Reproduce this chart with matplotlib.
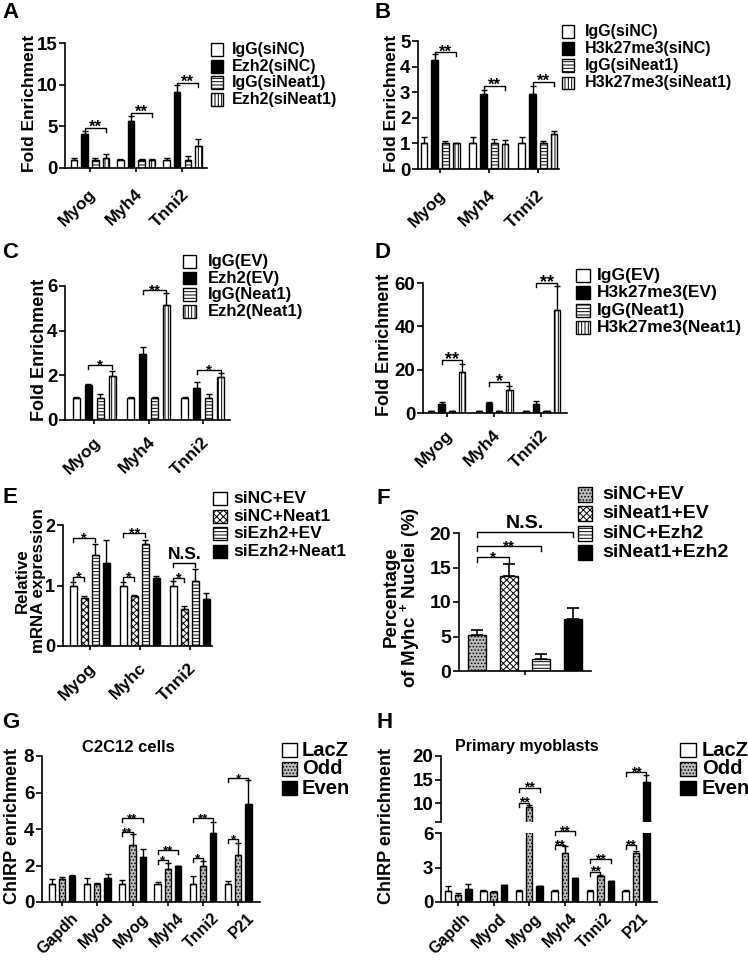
import numpy as np
import matplotlib
matplotlib.use('Agg')
import matplotlib.pyplot as plt
from matplotlib.patches import Rectangle
from matplotlib.transforms import ScaledTranslation

plt.rcParams.update({
    'font.family': ['Liberation Sans', 'DejaVu Sans'],
    'font.weight': 'bold',
    'axes.labelweight': 'bold',
    'hatch.linewidth': 0.7,
    'axes.linewidth': 1.2,
    'mathtext.fontset': 'custom',
    'mathtext.rm': 'Liberation Sans:bold',
    'mathtext.bf': 'Liberation Sans:bold',
    'mathtext.it': 'Liberation Sans:bold',
    'mathtext.default': 'rm',
})

# ---------------- data ----------------
genes3 = ['Myog', 'Myh4', 'Tnni2']
genes3e = ['Myog', 'Myhc', 'Tnni2']
genes6 = ['Gapdh', 'Myod', 'Myog', 'Myh4', 'Tnni2', 'P21']

a_labels = ['IgG(siNC)', 'Ezh2(siNC)', 'IgG(siNeat1)', 'Ezh2(siNeat1)']
a_vals = [[1.0, 1.0, 1.0], [4.1, 5.6, 9.1], [1.0, 1.0, 1.0], [1.25, 1.0, 2.7]]
a_errs = [[0.15, 0.1, 0.2], [0.4, 0.6, 0.8], [0.2, 0.1, 0.4], [0.45, 0.1, 0.8]]
a_sig = [(0, 1, 3, 4.8, '**'), (1, 1, 3, 6.6, '**'), (2, 1, 3, 10.2, '**')]

b_labels = ['IgG(siNC)', 'H3k27me3(siNC)', 'IgG(siNeat1)', 'H3k27me3(siNeat1)']
b_vals = [[1.0, 1.0, 1.0], [4.27, 2.92, 2.92], [1.0, 1.0, 1.0], [1.0, 0.97, 1.35]]
b_errs = [[0.26, 0.25, 0.25], [0.23, 0.16, 0.33], [0.1, 0.18, 0.1], [0.02, 0.15, 0.13]]
b_sig = [(0, 1, 3, 4.56, '**'), (1, 1, 3, 3.24, '**'), (2, 1, 3, 3.41, '**')]

c_labels = ['IgG(EV)', 'Ezh2(EV)', 'IgG(Neat1)', 'Ezh2(Neat1)']
c_vals = [[1.0, 1.0, 1.0], [1.55, 2.97, 1.45], [1.0, 1.0, 1.0], [1.97, 5.15, 1.92]]
c_errs = [[0.03, 0.03, 0.03], [0.06, 0.3, 0.26], [0.15, 0.05, 0.17], [0.23, 0.52, 0.18]]
c_sig = [(0, 1, 3, 2.45, '*'), (1, 1, 3, 5.8, '**'), (2, 1, 3, 2.23, '*')]

d_labels = ['IgG(EV)', 'H3k27me3(EV)', 'IgG(Neat1)', 'H3k27me3(Neat1)']
d_vals = [[1.0, 1.0, 1.0], [4.0, 4.8, 4.3], [1.0, 1.0, 1.0], [19.0, 10.5, 47.7]]
d_errs = [[0.1, 0.1, 0.1], [0.9, 0.5, 1.4], [0.1, 0.1, 0.1], [3.8, 2.1, 10.8]]
d_sig = [(0, 1, 3, 24.6, '**'), (1, 1, 3, 14.3, '*'), (2, 1, 3, 60.0, '**')]

e_labels = ['siNC+EV', 'siNC+Neat1', 'siEzh2+EV', 'siEzh2+Neat1']
e_vals = [[1.0, 1.0, 1.0], [0.8, 0.82, 0.61], [1.5, 1.68, 1.08], [1.38, 1.13, 0.78]]
e_errs = [[0.06, 0.06, 0.07], [0.02, 0.02, 0.05], [0.18, 0.07, 0.2], [0.37, 0.03, 0.1]]
e_sig = [(0, 0, 1, 1.14, '*'), (0, 0, 2, 1.78, '*'), (1, 0, 1, 1.14, '*'),
         (1, 0, 2, 1.86, '**'), (2, 0, 1, 1.12, '*'), (2, 0, 2, 1.38, 'N.S.')]

f_labels = ['siNC+EV', 'siNeat1+EV', 'siNC+Ezh2', 'siNeat1+Ezh2']
f_vals = [5.2, 13.7, 1.8, 7.6]
f_errs = [0.7, 1.8, 0.6, 1.6]
f_sig = [(0, 1, 16.5, '*'), (0, 2, 18.1, '**'), (0, 3, 20.1, 'N.S.')]

gh_labels = ['LacZ', 'Odd', 'Even']
g_vals = [[1.0, 1.0, 1.0, 1.0, 1.0, 1.0],
          [1.25, 1.0, 3.15, 1.8, 1.95, 2.58],
          [1.42, 1.3, 2.45, 1.95, 3.8, 5.35]]
g_errs = [[0.25, 0.3, 0.2, 0.12, 0.42, 0.15],
          [0.13, 0.05, 0.58, 0.35, 0.3, 0.65],
          [0.06, 0.25, 0.45, 0.03, 0.58, 1.32]]
g_sig = [(2, 0, 1, 3.84, '**'), (2, 0, 2, 4.62, '**'), (3, 0, 1, 2.28, '*'), (3, 0, 2, 2.83, '**'),
         (4, 0, 1, 2.43, '*'), (4, 0, 2, 4.62, '**'), (5, 0, 1, 3.43, '*'), (5, 0, 2, 6.81, '*')]

h_vals = [[1.0, 1.0, 1.0, 1.0, 1.0, 1.0],
          [0.6, 0.9, 9.2, 4.24, 2.25, 4.25],
          [1.1, 1.45, 1.35, 2.05, 1.8, 14.5]]
h_errs = [[0.35, 0.02, 0.02, 0.05, 0.02, 0.05],
          [0.15, 0.05, 0.4, 0.6, 0.1, 0.2],
          [0.45, 0.05, 0.03, 0.05, 0.05, 1.4]]
h_sig = [(2, 0, 1, 10.1, '**'), (2, 0, 2, 13.3, '**'), (3, 0, 1, 4.97, '**'), (3, 0, 2, 6.15, '**'),
         (4, 0, 1, 2.63, '**'), (4, 0, 2, 3.72, '**'), (5, 0, 1, 4.97, '**'), (5, 0, 2, 16.5, '**')]

STY = {'white': ('white', None), 'black': ('black', None), 'hline': ('white', '-----'),
       'vline': ('white', '|||||'), 'check': ('white', 'xxxxx'), 'dots': ('#bdbdbd', '.....')}

W, H = 748, 960
fig = plt.figure(figsize=(W / 100, H / 100), dpi=100)


def make_ax(l, r, t, b):
    return fig.add_axes([l / W, 1 - b / H, (r - l) / W, (b - t) / H])


def base_style(ax, ylim, yticks, xlim, fs, spines=('left', 'bottom')):
    for s in ['top', 'right', 'left', 'bottom']:
        ax.spines[s].set_visible(s in spines)
    ax.set_ylim(*ylim)
    ax.set_xlim(*xlim)
    ax.set_yticks(yticks)
    ax.tick_params(axis='y', direction='out', length=4, width=1.2, labelsize=fs, pad=1.5)
    ax.tick_params(axis='x', direction='out', length=3, width=1.2)
    ax.patch.set_alpha(0)


def draw_groups(ax, vals, errs, styles, spacing, width):
    n = len(vals)
    out = []
    for i, (v, e, st) in enumerate(zip(vals, errs, styles)):
        fc, hatch = STY[st]
        pos = np.arange(len(v)) + (i - (n - 1) / 2) * spacing
        ax.bar(pos, v, width, color=fc, edgecolor='black', hatch=hatch, linewidth=1.0, zorder=2)
        ax.errorbar(pos, v, yerr=[np.zeros(len(v)), e], fmt='none', ecolor='black',
                    elinewidth=1.0, capsize=2, capthick=1.0, zorder=3)
        out.append(pos)
    return out


def bracket(ax, x1, x2, y, txt, fs, nsfs=12, tick=4):
    p = ax.get_position()
    y0, y1 = ax.get_ylim()
    t = tick * (y1 - y0) / (p.height * H)
    ax.plot([x1, x1, x2, x2], [y - t, y, y, y - t], color='black', lw=1.0,
            clip_on=False, zorder=4)
    if txt.startswith('N'):
        ax.annotate(txt, ((x1 + x2) / 2, y), xytext=(0, 0.5), textcoords='offset points',
                    ha='center', va='bottom', fontsize=nsfs, annotation_clip=False)
    else:
        ax.annotate(txt, ((x1 + x2) / 2, y), xytext=(0, -3), textcoords='offset points',
                    ha='center', va='baseline', fontsize=fs, annotation_clip=False)


def xlabels(ax, labels, fs, pad=11, dx=4):
    ax.set_xticks(range(len(labels)))
    ax.set_xticklabels(labels, rotation=45, ha='right', va='center',
                       rotation_mode='anchor', fontsize=fs)
    ax.tick_params(axis='x', pad=pad)
    off = ScaledTranslation(dx / 100, 0, fig.dpi_scale_trans)
    for lab in ax.get_xticklabels():
        lab.set_transform(lab.get_transform() + off)


def legend(x, y, w, h, pitch, tx, labels, styles, fs):
    for k, (lab, st) in enumerate(zip(labels, styles)):
        fc, hatch = STY[st]
        top = y + k * pitch
        fig.add_artist(Rectangle((x / W, 1 - (top + h) / H), w / W, h / H,
                                 transform=fig.transFigure, facecolor=fc,
                                 edgecolor='black', hatch=hatch, lw=1.0))
        fig.text(tx / W, 1 - (top + h / 2) / H, lab, fontsize=fs, va='center', ha='left')


def ylabel(cx, cy, txt, fs):
    fig.text(cx / W, 1 - cy / H, txt, rotation=90, ha='center', va='center', fontsize=fs)


def letter(x, yb, s):
    fig.text(x / W, 1 - yb / H, s, fontsize=16, va='baseline', ha='left')


def sig3(ax, pos, sig, fs, nsfs=12):
    for g, i, j, y, txt in sig:
        bracket(ax, pos[i][g], pos[j][g], y, txt, fs, nsfs)


# ---------------- A ----------------
sty4 = ['white', 'black', 'hline', 'vline']
ax = make_ax(65, 207, 43, 168)
base_style(ax, (0, 15), [0, 5, 10, 15], (-0.54, 2.53), 13.5)
pos = draw_groups(ax, a_vals, a_errs, sty4, 0.23, 0.14)
sig3(ax, pos, a_sig, 12)
xlabels(ax, genes3, 12.5, pad=14)
ylabel(30, 103, 'Fold Enrichment', 12.5)
legend(211, 43, 12, 13, 16.7, 232, a_labels, sty4, 11.5)
letter(2, 18, 'A')

# ---------------- B ----------------
ax = make_ax(418, 559, 41, 169)
base_style(ax, (0, 5), [0, 1, 2, 3, 4, 5], (-0.45, 2.43), 13.5)
pos = draw_groups(ax, b_vals, b_errs, sty4, 0.22, 0.137)
sig3(ax, pos, b_sig, 12)
xlabels(ax, genes3, 12.5, pad=14)
ylabel(392, 103, 'Fold Enrichment', 12.5)
legend(562, 25, 12, 12.5, 17.2, 585, b_labels, sty4, 11.5)
letter(375, 18, 'B')

# ---------------- C ----------------
ax = make_ax(65, 230, 286, 420)
base_style(ax, (0, 6), [0, 2, 4, 6], (-0.54, 2.5), 13.5)
pos = draw_groups(ax, c_vals, c_errs, sty4, 0.22, 0.13)
sig3(ax, pos, c_sig, 11)
xlabels(ax, genes3, 12.5)
ylabel(40, 350, 'Fold Enrichment', 13)
legend(183, 255, 13, 12.7, 16.7, 208, c_labels, sty4, 12)
letter(2, 258, 'C')

# ---------------- D ----------------
ax = make_ax(423, 567, 283, 413)
base_style(ax, (0, 60), [0, 20, 40, 60], (-0.5, 2.54), 13.5)
pos = draw_groups(ax, d_vals, d_errs, sty4, 0.217, 0.13)
sig3(ax, pos, d_sig, 13)
xlabels(ax, genes3, 12.5)
ylabel(385, 345, 'Fold Enrichment', 13)
legend(576, 269, 14, 13, 17.4, 597, d_labels, sty4, 12.5)
letter(375, 258, 'D')

# ---------------- E ----------------
stye = ['white', 'check', 'hline', 'black']
ax = make_ax(63, 212, 525, 646)
base_style(ax, (0, 2), [0, 1, 2], (-0.53, 2.44), 13)
pos = draw_groups(ax, e_vals, e_errs, stye, 0.22, 0.14)
sig3(ax, pos, e_sig, 10.5, 12.5)
xlabels(ax, genes3e, 12.5)
ylabel(22, 581, 'Relative', 12.2)
ylabel(39, 581, 'mRNA expression', 12.2)
legend(213, 492, 14, 13, 17.6, 233, e_labels, stye, 12.5)
letter(2, 503, 'E')

# ---------------- F ----------------
styf = ['dots', 'check', 'hline', 'black']
ax = make_ax(459, 591, 533, 671)
base_style(ax, (0, 20), [0, 5, 10, 15, 20], (-0.56, 3.56), 14)
fx = np.arange(len(f_vals))
for k in range(len(f_vals)):
    fc, hatch = STY[styf[k]]
    ax.bar(fx[k], f_vals[k], 0.56, color=fc, edgecolor='black', hatch=hatch, linewidth=1.0, zorder=2)
ax.errorbar(fx, f_vals, yerr=[np.zeros(len(f_vals)), f_errs], fmt='none', ecolor='black',
            elinewidth=1.2, capsize=4, capthick=1.2, zorder=3)
ax.set_xticks([(len(f_vals) - 1) / 2])
ax.set_xticklabels([''])
for i, j, y, txt in f_sig:
    bracket(ax, fx[i], fx[j], y, txt, 11, 14, tick=5)
ylabel(391, 597, 'Percentage', 13.5)
ylabel(410, 597, 'of Myhc $^{+}$ Nuclei (%)', 13.5)
legend(578, 487, 14, 15, 19.4, 602, f_labels, styf, 14)
letter(376, 504, 'F')

# ---------------- G ----------------
styg = ['white', 'dots', 'black']
ax = make_ax(42, 260, 756, 902)
base_style(ax, (0, 8), [0, 2, 4, 6, 8], (-0.57, 5.62), 13.5)
pos = draw_groups(ax, g_vals, g_errs, styg, 0.29, 0.18)
sig3(ax, pos, g_sig, 9.5)
xlabels(ax, genes6, 11.5, pad=7, dx=14)
ylabel(13, 826, 'ChIRP enrichment', 13)
fig.text(128 / W, 1 - 747 / H, 'C2C12 cells', fontsize=12, ha='center', va='center')
legend(282, 743, 15, 14, 19, 302, gh_labels, styg, 14.5)
letter(2, 728, 'G')

# ---------------- H (broken axis) ----------------
axu = make_ax(441, 657, 756, 822)
base_style(axu, (6, 20), [6, 10, 15, 20], (-0.48, 5.59), 13.5, spines=('left',))
axu.set_yticklabels(['', '10', '15', '20'])
axu.set_xticks([])
axl = make_ax(441, 657, 833, 902)
base_style(axl, (0, 6), [0, 3, 6], (-0.48, 5.59), 13.5)
posu = draw_groups(axu, h_vals, h_errs, styg, 0.29, 0.18)
posl = draw_groups(axl, h_vals, h_errs, styg, 0.29, 0.18)
for g, i, j, y, txt in h_sig:
    if y > 7:
        bracket(axu, posu[i][g], posu[j][g], y, txt, 10)
    else:
        bracket(axl, posl[i][g], posl[j][g], y, txt, 10)
xlabels(axl, genes6, 11.5, pad=7, dx=10)
ylabel(387, 826, 'ChIRP enrichment', 13)
fig.text(527 / W, 1 - 747 / H, 'Primary myoblasts', fontsize=11.5, ha='center', va='center')
legend(680, 743, 16, 14, 19, 702, gh_labels, styg, 14.5)
letter(376, 728, 'H')

fig.savefig('out.png', dpi=100, facecolor='white')
